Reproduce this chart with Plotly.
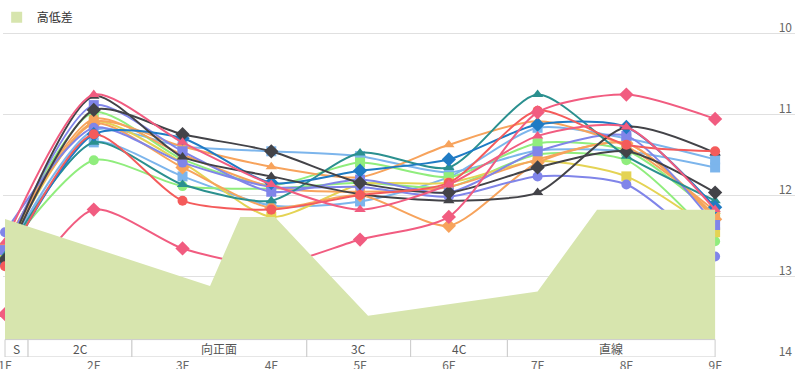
import plotly.graph_objects as go

floors = ["1F", "2F", "3F", "4F", "5F", "6F", "7F", "8F", "9F"]
y_ticks = [10, 11, 12, 13, 14]

# 高低差 (elevation profile) — positions in floor-index units, heights in m
elev_pos = [0.0, 2.31, 2.65, 3.04, 4.09, 6.0, 6.67, 8.0]
elev_val = [3.25, 1.45, 3.3, 3.3, 0.65, 1.3, 3.5, 3.5]

# course sections
sec_names = ["S", "2C", "向正面", "3C", "4C", "直線"]
sec_start = [0.0, 0.26, 1.43, 3.40, 4.57, 5.66]
sec_end = [0.26, 1.43, 3.40, 4.57, 5.66, 8.0]

# lap series
s_pink_dia = [13.47, 12.18, 12.66, 12.87, 12.55, 12.27, 10.98, 10.76, 11.06]
s_red_cir = [12.88, 11.25, 12.07, 12.18, 12.0, 11.85, 10.96, 11.38, 11.46]
s_pink_tri = [12.58, 10.76, 11.35, 11.87, 12.18, 11.87, 11.27, 11.16, 12.18]
s_dark_dia = [12.8, 10.95, 11.25, 11.46, 11.85, 11.97, 11.66, 11.46, 11.97]
s_dark_tri = [12.78, 10.78, 11.53, 11.77, 11.99, 12.07, 11.97, 11.16, 11.48]
s_purp_sq = [12.68, 10.89, 11.46, 11.96, 11.81, 11.97, 11.46, 11.27, 12.37]
s_purp_cir = [12.46, 11.17, 11.6, 11.9, 11.9, 12.02, 11.77, 11.87, 12.76]
s_green_sq = [12.65, 10.98, 11.56, 11.88, 11.6, 11.78, 11.36, 11.45, 12.25]
s_green_cir = [12.7, 11.57, 11.89, 11.92, 11.85, 11.9, 11.5, 11.57, 12.57]
s_orng_cir = [12.62, 11.06, 11.5, 11.9, 11.96, 11.9, 11.56, 11.36, 12.26]
s_orng_tri = [12.6, 11.1, 11.4, 11.65, 11.78, 11.38, 11.09, 11.4, 12.2]
s_orng_dia = [12.65, 11.12, 11.66, 12.16, 12.0, 12.38, 11.6, 11.36, 12.3]
s_yell_sq = [12.72, 11.1, 11.6, 12.27, 11.87, 11.85, 11.58, 11.77, 12.46]
s_teal_tri = [12.75, 11.35, 11.87, 12.07, 11.48, 11.66, 10.76, 11.52, 12.07]
s_blue_dia = [12.85, 11.25, 11.3, 11.85, 11.7, 11.56, 11.13, 11.16, 12.15]
s_lblue_sq1 = [12.7, 11.35, 11.77, 12.13, 12.08, 11.78, 11.17, 11.3, 11.56]
s_lblue_sq2 = [12.75, 11.2, 11.4, 11.46, 11.52, 11.72, 11.45, 11.46, 11.66]

series = [
    (s_lblue_sq2, "#7cb5ec", "square"),
    (s_lblue_sq1, "#7cb5ec", "square"),
    (s_green_cir, "#90ed7d", "circle"),
    (s_green_sq, "#90ed7d", "square"),
    (s_yell_sq, "#e4d354", "square"),
    (s_orng_dia, "#f7a35c", "diamond"),
    (s_orng_cir, "#f7a35c", "circle"),
    (s_orng_tri, "#f7a35c", "triangle-up"),
    (s_purp_cir, "#8085e9", "circle"),
    (s_purp_sq, "#8085e9", "square"),
    (s_teal_tri, "#2b908f", "triangle-up"),
    (s_blue_dia, "#1f7bc4", "diamond"),
    (s_dark_tri, "#434348", "triangle-up"),
    (s_dark_dia, "#434348", "diamond"),
    (s_red_cir, "#f45b5b", "circle"),
    (s_pink_tri, "#f15c80", "triangle-up"),
    (s_pink_dia, "#f15c80", "diamond"),
]

AREA_COL = "#d7e5ae"
xi = list(range(len(floors)))

fig = go.Figure()

fig.add_trace(go.Scatter(
    x=elev_pos, y=elev_val, name="高低差", mode="lines",
    line=dict(width=0, color=AREA_COL), fill="tozeroy", fillcolor=AREA_COL,
    yaxis="y2", showlegend=False, hoverinfo="skip",
))
# legend entry (square swatch)
fig.add_trace(go.Scatter(
    x=[None], y=[None], name="高低差", mode="markers",
    marker=dict(symbol="square", size=11, color=AREA_COL), showlegend=True,
))

for vals, col, sym in series:
    fig.add_trace(go.Scatter(
        x=xi, y=vals, mode="lines+markers",
        line=dict(color=col, width=2, shape="spline", smoothing=0.7),
        marker=dict(color=col, symbol=sym, size=10 if sym != "diamond" else 11, line=dict(width=0)),
        showlegend=False, cliponaxis=False,
    ))

# section boxes
shapes = []
annotations = []
for nm, a, b in zip(sec_names, sec_start, sec_end):
    shapes.append(dict(type="rect", xref="x", yref="y", x0=a, x1=b, y0=13.785, y1=14.0,
                       line=dict(color="#cccccc", width=1), fillcolor="white", layer="above"))
    annotations.append(dict(x=(a + b) / 2, y=13.89, xref="x", yref="y", text=nm, showarrow=False,
                            font=dict(size=12, color="#555555", family="Noto Sans CJK JP")))

fig.update_layout(
    width=797, height=369,
    margin=dict(l=3, r=2, t=31, b=12, autoexpand=False),
    paper_bgcolor="white", plot_bgcolor="white",
    font=dict(family="Noto Sans CJK JP, Noto Sans, sans-serif", size=12, color="#666666"),
    xaxis=dict(range=[-0.0225, 8.9], tickvals=xi, ticktext=floors, showgrid=False, zeroline=False,
               ticks="", automargin=False, ticklabeloverflow="allow",
               tickfont=dict(size=12, color="#666666")),
    yaxis=dict(range=[14.0, 9.975], tickvals=y_ticks, side="right", ticklabelposition="inside",
               ticklabeloverflow="allow", ticklabelshift=5,
               gridcolor="#e0e0e0", gridwidth=1, zeroline=False, ticks="", automargin=False,
               tickfont=dict(size=12, color="#666666")),
    yaxis2=dict(range=[-0.46, 8.3], overlaying="y", visible=False),
    legend=dict(x=-0.008, y=1.0864, xanchor="left", yanchor="top", orientation="h",
                font=dict(size=12, color="#333333"), bgcolor="rgba(0,0,0,0)", itemwidth=30),
    shapes=shapes, annotations=annotations, showlegend=True,
)

fig.write_html("out.html", config={"displayModeBar": False},
               post_script="document.body.style.margin='0';document.body.style.overflow='hidden';")
